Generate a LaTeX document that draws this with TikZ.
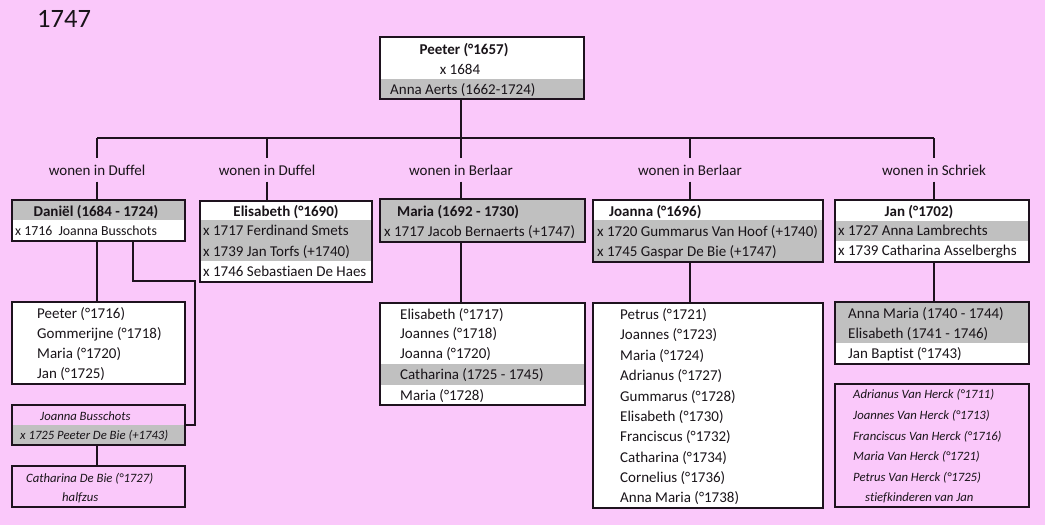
\documentclass[tikz,border=0pt]{standalone}
\usepackage{fontspec}
\setmainfont[Ligatures={NoCommon}]{Carlito}
\usetikzlibrary{fit}
\definecolor{bgpink}{RGB}{250,200,250}
\definecolor{bandgray}{RGB}{192,192,192}
\definecolor{framec}{RGB}{30,18,30}
\definecolor{inkc}{RGB}{25,20,25}
\begin{document}
\begin{tikzpicture}[x=1pt,y=-1pt,
  frame/.style={draw=framec, line width=2.8pt, inner sep=0pt, outer sep=0pt},
  conn/.style={draw=framec, line width=1.8pt},
  band/.style={fill=bandgray},
  paper/.style={fill=white},
  txt/.style={text=inkc, inner sep=0pt, yshift=-2.7pt, font=\fontsize{15pt}{18pt}\selectfont},
  hd/.style={txt, font=\fontsize{15pt}{18pt}\selectfont\bfseries},
  it/.style={text=inkc, inner sep=0pt, yshift=-2.5pt, font=\fontsize{12.7pt}{15pt}\selectfont\itshape},
  lab/.style={text=inkc, inner sep=0pt, minimum height=23pt, font=\fontsize{15pt}{18pt}\selectfont},
]
\fill[bgpink] (0,0) rectangle (1045,525);
\useasboundingbox (0,0) rectangle (1045,525);

\node[txt, anchor=mid west, font=\fontsize{26.5pt}{30pt}\selectfont] (year) at (37,22) {1747};

% top couple
\fill[paper] (380,37) rectangle (584,99);
\fill[band] (380,79) rectangle (584,99);
\node[frame, fit={(380,37) (584,99)}] (top) {};
\node[hd, anchor=mid] (top1) at (464,49) {Peeter (°1657)};
\node[txt, anchor=mid] (top2) at (460,69) {x 1684};
\node[txt, anchor=mid west] (top3) at (390,89) {Anna Aerts (1662-1724)};

% labels
\coordinate (bus) at (0,138);
\node[lab] (l1) at (97,170) {wonen in Duffel};
\node[lab] (l2) at (267,170) {wonen in Duffel};
\node[lab] (l3) at (461,170) {wonen in Berlaar};
\node[lab] (l4) at (690,170) {wonen in Berlaar};
\node[lab] (l5) at (934,170) {wonen in Schriek};

% Daniel
\fill[paper] (12,200) rectangle (185,241);
\fill[band] (12,200) rectangle (185,220);
\node[frame, fit={(12,200) (185,241)}] (dan) {};
\node[hd, anchor=mid] (dan1) at (96,211) {Daniël (1684 - 1724)};
\node[txt, anchor=mid west, font=\fontsize{13.8pt}{16pt}\selectfont] (dan2) at (15,230) {x 1716\ \ Joanna Busschots};

% Elisabeth
\fill[paper] (200,201) rectangle (372,282);
\fill[band] (200,220) rectangle (372,261);
\node[frame, fit={(200,201) (372,282)}] (eli) {};
\node[hd, anchor=mid] (eli1) at (286,211) {Elisabeth (°1690)};
\node[txt, anchor=mid west] (eli2) at (203,230) {x 1717 Ferdinand Smets};
\node[txt, anchor=mid west] (eli3) at (203,251) {x 1739 Jan Torfs (+1740)};
\node[txt, anchor=mid west] (eli4) at (203,271) {x 1746 Sebastiaen De Haes};

% Maria
\fill[band] (380,199) rectangle (585,242);
\node[frame, fit={(380,199) (585,242)}] (mar) {};
\node[hd, anchor=mid west] (mar1) at (397,211) {Maria (1692 - 1730)};
\node[txt, anchor=mid west] (mar2) at (384,231) {x 1717 Jacob Bernaerts (+1747)};

% Joanna
\fill[paper] (593,200) rectangle (823,262);
\fill[band] (593,220) rectangle (823,262);
\node[frame, fit={(593,200) (823,262)}] (joa) {};
\node[hd, anchor=mid west] (joa1) at (609,211) {Joanna (°1696)};
\node[txt, anchor=mid west] (joa2) at (597,231) {x 1720 Gummarus Van Hoof (+1740)};
\node[txt, anchor=mid west] (joa3) at (597,251) {x 1745 Gaspar De Bie (+1747)};

% Jan
\fill[paper] (835,200) rectangle (1029,262);
\fill[band] (835,221) rectangle (1029,241);
\node[frame, fit={(835,200) (1029,262)}] (jan) {};
\node[hd, anchor=mid] (jan1) at (919,211) {Jan (°1702)};
\node[txt, anchor=mid west] (jan2) at (838,230) {x 1727 Anna Lambrechts};
\node[txt, anchor=mid west] (jan3) at (838,250) {x 1739 Catharina Asselberghs};

% Daniel's children
\fill[paper] (12,302) rectangle (185,384);
\node[frame, fit={(12,302) (185,384)}] (dkids) {};
\node[txt, anchor=mid west] (dk1) at (37,313) {Peeter (°1716)};
\node[txt, anchor=mid west] (dk2) at (37,333) {Gommerijne (°1718)};
\node[txt, anchor=mid west] (dk3) at (37,353) {Maria (°1720)};
\node[txt, anchor=mid west] (dk4) at (37,373) {Jan (°1725)};

% Joanna Busschots
\fill[band] (12,425) rectangle (185,445);
\node[frame, fit={(12,405) (185,445)}] (jb) {};
\node[it, anchor=mid west] (jb1) at (40,416) {Joanna Busschots};
\node[it, anchor=mid west] (jb2) at (20,435) {x 1725 Peeter De Bie (+1743)};

% Catharina De Bie
\node[frame, fit={(12,466) (185,507)}] (cath) {};
\node[it, anchor=mid west] (cath1) at (26,478) {Catharina De Bie (°1727)};
\node[it, anchor=mid west] (cath2) at (62,497) {halfzus};

% Maria's children
\fill[paper] (380,303) rectangle (585,405);
\fill[band] (380,364) rectangle (585,385);
\node[frame, fit={(380,303) (585,405)}] (mkids) {};
\node[txt, anchor=mid west] (mk1) at (400,314) {Elisabeth (°1717)};
\node[txt, anchor=mid west] (mk2) at (400,333) {Joannes (°1718)};
\node[txt, anchor=mid west] (mk3) at (400,353) {Joanna (°1720)};
\node[txt, anchor=mid west] (mk4) at (400,374) {Catharina (1725 - 1745)};
\node[txt, anchor=mid west] (mk5) at (400,395) {Maria (°1728)};

% Joanna's children
\fill[paper] (593,303) rectangle (823,508);
\node[frame, fit={(593,303) (823,508)}] (jkids) {};
\node[txt, anchor=mid west] (jk1) at (620,314) {Petrus (°1721)};
\node[txt, anchor=mid west] (jk2) at (620,334) {Joannes (°1723)};
\node[txt, anchor=mid west] (jk3) at (620,355) {Maria (°1724)};
\node[txt, anchor=mid west] (jk4) at (620,375) {Adrianus (°1727)};
\node[txt, anchor=mid west] (jk5) at (620,396) {Gummarus (°1728)};
\node[txt, anchor=mid west] (jk6) at (620,416) {Elisabeth (°1730)};
\node[txt, anchor=mid west] (jk7) at (620,436) {Franciscus (°1732)};
\node[txt, anchor=mid west] (jk8) at (620,457) {Catharina (°1734)};
\node[txt, anchor=mid west] (jk9) at (620,477) {Cornelius (°1736)};
\node[txt, anchor=mid west] (jk10) at (620,497) {Anna Maria (°1738)};

% Jan's children
\fill[paper] (835,302) rectangle (1029,364);
\fill[band] (835,302) rectangle (1029,343);
\node[frame, fit={(835,302) (1029,364)}] (nkids) {};
\node[txt, anchor=mid west] (nk1) at (848,313) {Anna Maria (1740 - 1744)};
\node[txt, anchor=mid west] (nk2) at (848,333) {Elisabeth (1741 - 1746)};
\node[txt, anchor=mid west] (nk3) at (848,353) {Jan Baptist (°1743)};

% stepchildren
\node[frame, fit={(835,384) (1029,507)}] (step) {};
\node[it, anchor=mid west] (st1) at (853,394) {Adrianus Van Herck (°1711)};
\node[it, anchor=mid west] (st2) at (853,415) {Joannes Van Herck (°1713)};
\node[it, anchor=mid west] (st3) at (853,436) {Franciscus Van Herck (°1716)};
\node[it, anchor=mid west] (st4) at (853,456) {Maria Van Herck (°1721)};
\node[it, anchor=mid west] (st5) at (853,477) {Petrus Van Herck (°1725)};
\node[it, anchor=mid west] (st6) at (865,497) {stiefkinderen van Jan};

% connectors
\coordinate (j1) at (133,281);
\coordinate (j2) at (195,0);
\draw[conn] (top.south -| l3.north) -- (l3.north |- bus);
\draw[conn] (l1.north |- bus) -- (l5.north |- bus);
\foreach \l/\b in {l1/dan, l2/eli, l3/mar, l4/joa, l5/jan}{
  \draw[conn] (\l.north |- bus) -- (\l.north);
  \draw[conn] (\l.south) -- (\l.south |- \b.north);
}
\draw[conn] (l1.south |- dan.south) -- (l1.south |- dkids.north);
\draw[conn] (dan.south -| j1) -- (j1) -| (jb.east -| j2) -- (jb.east);
\draw[conn] (l1.south |- jb.south) -- (l1.south |- cath.north);
\draw[conn] (l3.south |- mar.south) -- (l3.south |- mkids.north);
\draw[conn] (l4.south |- joa.south) -- (l4.south |- jkids.north);
\draw[conn] (l5.south |- jan.south) -- (l5.south |- nkids.north);
\end{tikzpicture}
\end{document}
